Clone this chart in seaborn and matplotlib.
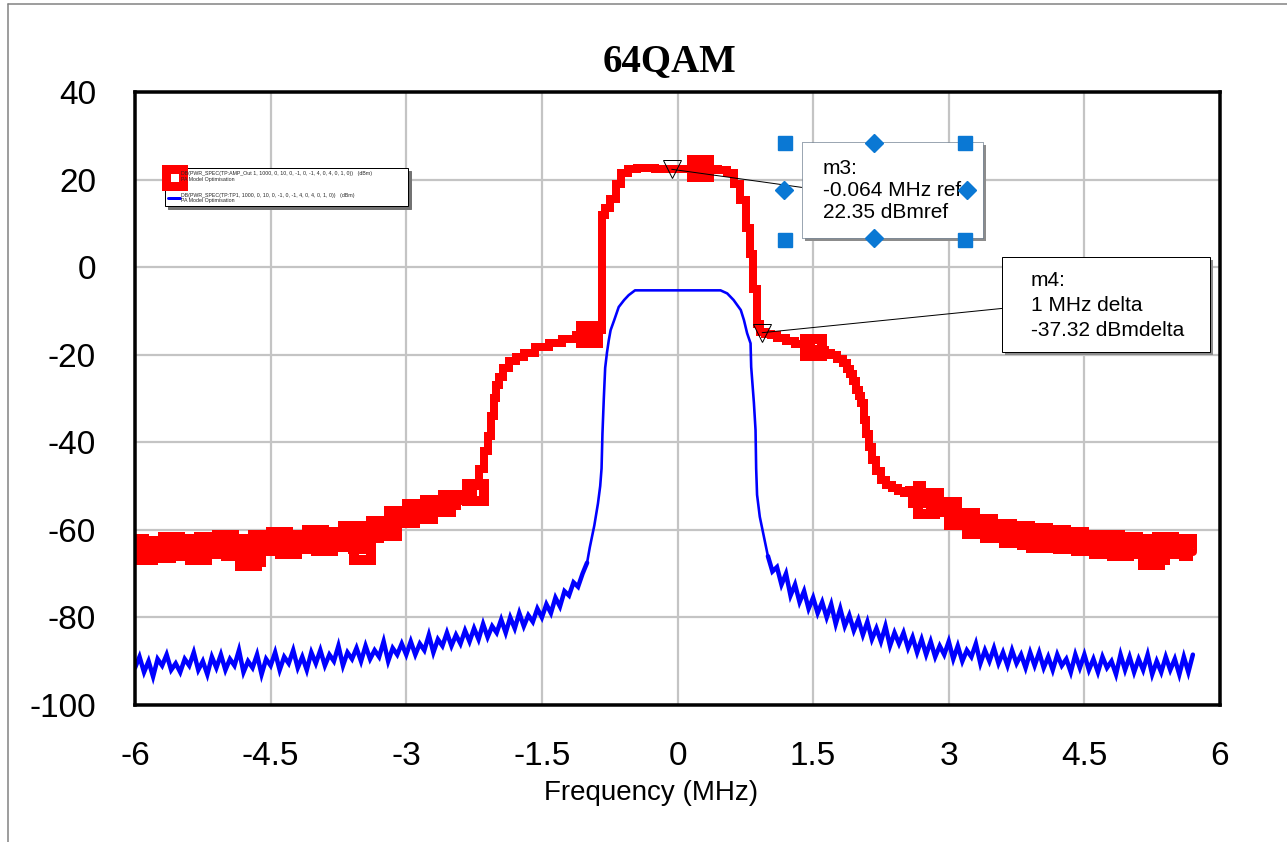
import numpy as np
import pandas as pd
import matplotlib
matplotlib.use("Agg")
import matplotlib.pyplot as plt
import seaborn as sns
from matplotlib import font_manager, patheffects
from matplotlib.lines import Line2D
from matplotlib.patches import Rectangle

W, H, DPI = 1287, 842, 100

# ---------------------------------------------------------------- data
title = "64QAM"
x_label = "Frequency (MHz)"
x_ticks = [-6, -4.5, -3, -1.5, 0, 1.5, 3, 4.5, 6]
x_tick_labels = ["-6", "-4.5", "-3", "-1.5", "0", "1.5", "3", "4.5", "6"]
y_ticks = [40, 20, 0, -20, -40, -60, -80, -100]
y_tick_labels = ["40", "20", "0", "-20", "-40", "-60", "-80", "-100"]

legend_labels = [
    "DB(PWR_SPEC(TP:AMP_Out 1, 1000, 0, 10, 0, -1, 0, -1, 4, 0, 4, 0, 1, 0))   (dBm)\nPA Model Optimisation",
    "DB(PWR_SPEC(TP:TP1, 1000, 0, 10, 0, -1, 0, -1, 4, 0, 4, 0, 1, 0))   (dBm)\nPA Model Optimisation",
]

# AMP_Out spectrum (dBm): lower floor bins, channel + shoulders, upper floor bins
amp_low_f = np.linspace(-6.0, -2.4, 37)
amp_low_db = [-63.0, -66.0, -63.5, -65.5, -62.5, -65.0, -63.0, -66.0, -62.5, -64.5,
              -62.0, -65.0, -63.0, -66.5, -62.0, -64.0, -61.5, -64.5, -62.0, -63.5,
              -61.0, -64.0, -61.5, -63.0, -60.0, -63.5, -61.0, -59.0, -60.5, -56.5,
              -57.5, -55.0, -56.5, -54.0, -55.0, -53.0, -53.5]
amp_mid_f = [-2.3, -2.22, -2.16, -2.12, -2.08, -2.05, -2.02, -1.99, -1.95, -1.90,
             -1.83, -1.75, -1.65, -1.50, -1.35, -1.20, -1.05, -0.90, -0.84, -0.82,
             -0.78, -0.71, -0.66, -0.60, -0.50, -0.40, -0.30, -0.20, -0.10, 0.0,
             0.10, 0.20, 0.30, 0.40, 0.50, 0.59, 0.66, 0.73, 0.78, 0.82,
             0.86, 0.89, 0.93, 1.0, 1.06, 1.15, 1.25, 1.35, 1.44, 1.52,
             1.6, 1.67, 1.73, 1.8, 1.85, 1.89, 1.92, 1.96, 1.99, 2.02,
             2.05, 2.08, 2.10, 2.13, 2.17, 2.22, 2.28, 2.34, 2.4, 2.47, 2.53]
amp_mid_db = [-52.0, -50.0, -46.0, -42.0, -38.5, -34.0, -30.0, -27.0, -25.0, -23.0,
              -21.5, -20.5, -19.5, -18.2, -17.3, -16.3, -15.6, -14.9, -14.4, 12.0,
              13.5, 15.5, 19.0, 21.5, 22.5, 22.6, 22.7, 22.5, 22.4, 22.4,
              22.5, 22.7, 22.6, 22.5, 22.2, 21.5, 19.0, 15.3, 9.0, 3.0,
              -5.0, -13.0, -14.9, -15.2, -15.5, -16.1, -16.8, -17.5, -18.2, -18.6,
              -19.0, -19.5, -20.0, -21.0, -22.0, -23.2, -24.3, -26.0, -28.0, -29.5,
              -31.0, -35.0, -38.0, -41.0, -44.0, -46.5, -48.6, -49.8, -50.5, -51.2, -51.6]
amp_high_f = np.linspace(2.6, 5.7, 32)
amp_high_db = [-51.0, -53.0, -52.5, -55.0, -54.5, -58.0, -57.0, -60.0, -58.5, -61.0,
               -59.5, -62.0, -60.0, -62.5, -60.5, -63.0, -61.0, -63.5, -61.5, -64.0,
               -62.0, -64.5, -62.0, -65.0, -62.5, -64.5, -63.0, -66.0, -62.5, -64.5,
               -63.0, -65.0]
amp_symbol_f = [-6.0, -4.75, -3.49, -2.24, -0.98, 0.25, 1.5, 2.75, 4.0, 5.24]
amp_symbol_db = [-64.5, -66.2, -64.8, -51.3, -15.3, 22.7, -18.3, -54.3, -62.0, -66.0]

# TP1 spectrum (dBm)
tp1_low_f = np.linspace(-6.0, -1.0, 101)
tp1_low_db = [-91.5, -89.0, -92.5, -90.0, -93.5, -89.5, -91.0, -88.5, -92.0, -90.5,
              -92.5, -89.5, -91.0, -88.0, -92.0, -90.0, -93.0, -89.0, -91.5, -88.5,
              -92.0, -89.5, -91.0, -87.5, -92.5, -90.0, -91.5, -88.5, -93.0, -89.5,
              -91.0, -88.0, -92.0, -89.0, -90.5, -87.5, -91.5, -89.0, -92.0, -88.0,
              -90.5, -87.5, -91.0, -88.5, -90.0, -86.5, -91.0, -88.0, -89.5, -87.0,
              -90.0, -86.5, -89.5, -87.5, -89.0, -85.5, -90.0, -87.0, -88.5, -86.0,
              -88.5, -85.5, -88.5, -86.0, -87.5, -84.0, -88.0, -85.0, -86.5, -83.5,
              -86.5, -84.0, -86.0, -83.0, -85.5, -82.5, -85.0, -81.5, -84.5, -82.0,
              -83.5, -80.5, -83.5, -80.0, -82.5, -79.0, -82.0, -79.5, -81.0, -78.0,
              -80.0, -77.0, -79.0, -75.5, -77.5, -74.0, -75.0, -72.0, -73.0, -70.0,
              -67.5]
tp1_mid_f = [-0.97, -0.92, -0.88, -0.855, -0.84, -0.83, -0.815, -0.80, -0.78, -0.76,
             -0.74, -0.70, -0.65, -0.59, -0.54, -0.47, 0.476, 0.55, 0.62, 0.70,
             0.735, 0.77, 0.808, 0.815, 0.845, 0.863, 0.870, 0.88, 0.91, 0.95]
tp1_mid_db = [-64.0, -59.0, -54.0, -50.0, -46.0, -38.0, -30.0, -23.0, -19.5, -16.7,
              -14.4, -12.1, -9.1, -7.5, -6.4, -5.3, -5.3, -6.0, -7.5, -9.8,
              -12.1, -15.1, -17.4, -22.8, -31.0, -37.2, -46.0, -52.0, -57.0, -61.0]
tp1_high_f = np.linspace(1.0, 5.7, 95)
tp1_high_db = [-66.0, -69.5, -68.5, -72.5, -70.0, -75.0, -72.5, -76.5, -74.0, -78.0,
               -75.5, -79.0, -76.5, -80.0, -77.0, -81.5, -78.0, -82.0, -79.5, -83.0,
               -80.5, -84.0, -81.0, -85.0, -82.5, -85.5, -82.0, -86.5, -83.5, -86.0,
               -83.5, -87.0, -84.5, -88.0, -85.0, -88.5, -85.5, -89.0, -86.5, -88.5,
               -85.5, -89.5, -86.5, -90.0, -87.5, -89.0, -86.0, -90.5, -87.5, -90.0,
               -87.0, -90.5, -88.0, -91.0, -87.5, -90.5, -88.5, -91.5, -88.0, -91.0,
               -88.0, -91.5, -89.0, -92.0, -88.5, -91.0, -89.5, -92.5, -88.5, -91.5,
               -88.5, -92.0, -89.5, -92.5, -89.0, -91.5, -90.0, -93.0, -88.5, -92.0,
               -89.0, -92.5, -89.5, -92.0, -88.5, -93.0, -90.0, -92.5, -89.0, -92.0,
               -89.5, -93.0, -89.0, -92.5, -88.5]

# marker readouts
m3_f, m3_db = -0.064, 22.35
m4_delta_f, m4_delta_db = 1.0, -37.32

amp = pd.DataFrame({
    "freq": np.concatenate([amp_low_f, amp_mid_f, amp_high_f]),
    "dbm": np.concatenate([amp_low_db, amp_mid_db, amp_high_db]),
})
amp_floors = [pd.DataFrame({"freq": amp_low_f, "dbm": amp_low_db}),
              pd.DataFrame({"freq": amp_high_f, "dbm": amp_high_db})]
tp1 = pd.DataFrame({
    "freq": np.concatenate([tp1_low_f, tp1_mid_f, tp1_high_f]),
    "dbm": np.concatenate([tp1_low_db, tp1_mid_db, tp1_high_db]),
})
tp1_floors = [pd.DataFrame({"freq": tp1_low_f, "dbm": tp1_low_db}),
              pd.DataFrame({"freq": tp1_high_f, "dbm": tp1_high_db})]
amp_symbols = pd.DataFrame({"freq": amp_symbol_f, "dbm": amp_symbol_db})
m4_f, m4_db = m3_f + m4_delta_f, m3_db + m4_delta_db

# ---------------------------------------------------------------- style
available = {f.name for f in font_manager.fontManager.ttflist}


def pick(*names):
    for n in names:
        if n in available:
            return n
    return "DejaVu Sans"


SANS = pick("Liberation Sans Narrow", "Liberation Sans", "Arial")
SERIF = pick("Liberation Serif", "DejaVu Serif")

sns.set_theme(style="white")
plt.rcParams["font.family"] = [SANS, "DejaVu Sans"]

RED = "#ff0000"
BLUE = "#0000ff"
PX = 72.0 / DPI  # points per pixel


def fig_xy(px, py):
    """figure fraction from pixel position measured from the top-left"""
    return px / W, 1 - py / H


fig = plt.figure(figsize=(W / DPI, H / DPI), dpi=DPI, facecolor="white")
ax = fig.add_axes([135 / W, 1 - 705 / H, (1220 - 135) / W, (705 - 92) / H])
ax.set_facecolor("white")

# ---------------------------------------------------------------- traces
sns.scatterplot(data=amp_symbols, x="freq", y="dbm", ax=ax, marker="s",
                s=(17 * PX) ** 2, color="white", edgecolor=RED,
                linewidth=10 * PX, joinstyle="miter", zorder=3, legend=False)
sns.lineplot(data=amp, x="freq", y="dbm", ax=ax, color=RED, lw=8 * PX,
             drawstyle="steps-mid", estimator=None, sort=False, zorder=4,
             solid_joinstyle="miter", legend=False)
for part in amp_floors:
    sns.lineplot(data=part, x="freq", y="dbm", ax=ax, color=RED, lw=18 * PX,
                 drawstyle="steps-mid", estimator=None, sort=False, zorder=4,
                 solid_joinstyle="miter", solid_capstyle="butt", legend=False)

sns.lineplot(data=tp1, x="freq", y="dbm", ax=ax, color=BLUE, lw=2.6 * PX,
             estimator=None, sort=False, zorder=5, legend=False)
for part in tp1_floors:
    sns.lineplot(data=part, x="freq", y="dbm", ax=ax, color=BLUE, lw=4.5 * PX,
                 estimator=None, sort=False, zorder=5, solid_joinstyle="miter",
                 legend=False)

ax.plot([m3_f, m4_f], [m3_db, m4_db], ls="none", marker="v", ms=18 * PX,
        mfc="none", mec="black", mew=1.0 * PX, zorder=7)

# ---------------------------------------------------------------- axes
ax.set_xlim(-6, 6)
ax.set_ylim(-100, 40)
ax.set_xticks(x_ticks, x_tick_labels)
ax.set_yticks(y_ticks, y_tick_labels)
ax.tick_params(axis="both", length=0, labelsize=24, colors="black")
ax.tick_params(axis="x", pad=26)
ax.tick_params(axis="y", pad=28)
ax.grid(True, color="#c4c4c4", lw=2.2 * PX)
ax.set_axisbelow(True)
for side, sp in ax.spines.items():
    sp.set_visible(True)
    sp.set_color("black")
    sp.set_linewidth(3.5 * PX)
    sp.set_zorder(8)

ax.set_xlabel(x_label, fontsize=20, color="black")
ax.xaxis.set_label_coords((651 - 135) / 1085, (705 - 793) / 613)
ax.xaxis.label.set_va("center")
ax.set_ylabel("")

ax.set_title(title, fontfamily=SERIF, fontweight="bold", fontsize=28,
             color="black", x=(669 - 135) / 1085, pad=15)

# ---------------------------------------------------------------- legend
handles = [
    Line2D([], [], color=RED, lw=8 * PX, marker="s", ms=17 * PX, mfc="white",
           mec=RED, mew=9 * PX),
    Line2D([], [], color=BLUE, lw=3 * PX),
]
leg = ax.legend(handles, legend_labels, loc="upper left",
                bbox_to_anchor=(165 / W, 1 - 211 / H, 243 / W, 43 / H),
                bbox_transform=fig.transFigure, mode="expand",
                fontsize=3.8, frameon=True, fancybox=False, framealpha=1,
                edgecolor="black", borderpad=0.6, labelspacing=2.0,
                handlelength=2.2, handletextpad=0.3, borderaxespad=0,
                shadow={"color": "0.45", "alpha": 1.0})
leg.get_frame().set_linewidth(1.0 * PX)
leg.set_zorder(9)

# ---------------------------------------------------------------- marker readouts
shadow = [patheffects.SimplePatchShadow(offset=(2.5, -2.5), shadow_rgbFace="0.55",
                                        alpha=1.0), patheffects.Normal()]


def readout_box(left, top, right, bottom, **style):
    x0, y1 = fig_xy(left, top)
    x1, y0 = fig_xy(right, bottom)
    box = Rectangle((x0, y0), x1 - x0, y1 - y0, transform=fig.transFigure,
                    fc="white", clip_on=False, zorder=9, **style)
    box.set_path_effects(shadow)
    ax.add_patch(box)
    return box


box3 = readout_box(802, 142, 983, 238, ec="#3a5068", lw=1.0 * PX, ls=(0, (1, 1)))
box4 = readout_box(1002, 257, 1210, 352, ec="black", lw=1.0 * PX)

m3_text = f"m3:\n{m3_f:g} MHz ref\n{m3_db:.2f} dBmref"
m4_text = f"m4:\n{m4_delta_f:g} MHz delta\n{m4_delta_db:.2f} dBmdelta"

ax.annotate(m3_text, xy=(m3_f, m3_db), xytext=fig_xy(823, 159),
            textcoords="figure fraction", ha="left", va="top", fontsize=15,
            linespacing=1.19, color="black", zorder=10,
            arrowprops=dict(arrowstyle="-", color="black", lw=1.0 * PX,
                            shrinkA=0, shrinkB=0, relpos=(0, 0.5), patchA=box3))
ax.annotate(m4_text, xy=(m4_f, m4_db), xytext=fig_xy(1031, 271),
            textcoords="figure fraction", ha="left", va="top", fontsize=15,
            linespacing=1.4, color="black", zorder=10,
            arrowprops=dict(arrowstyle="-", color="black", lw=1.0 * PX,
                            shrinkA=0, shrinkB=0, relpos=(0, 0.5), patchA=box4))

# selection handles around the m3 readout
HANDLE = "#0a78d4"
sq = [fig_xy(785, 143), fig_xy(965, 143), fig_xy(785, 240), fig_xy(965, 240)]
dm = [fig_xy(874, 143), fig_xy(874, 238), fig_xy(784, 190), fig_xy(967, 190)]
fig.add_artist(Line2D([p[0] for p in sq], [p[1] for p in sq],
                      transform=fig.transFigure, ls="none", marker="s",
                      ms=14 * PX, mfc=HANDLE, mec=HANDLE, zorder=20))
fig.add_artist(Line2D([p[0] for p in dm], [p[1] for p in dm],
                      transform=fig.transFigure, ls="none", marker="D",
                      ms=13 * PX, mfc=HANDLE, mec=HANDLE, zorder=20))

# outer frame edges
fig.add_artist(Line2D([8 / W, 1], [1 - 4 / H, 1 - 4 / H], transform=fig.transFigure,
                      color="#808080", lw=1.5 * PX))
fig.add_artist(Line2D([8 / W, 8 / W], [0, 1 - 4 / H], transform=fig.transFigure,
                      color="#808080", lw=1.5 * PX))

fig.savefig("out.png", dpi=DPI, facecolor="white")
